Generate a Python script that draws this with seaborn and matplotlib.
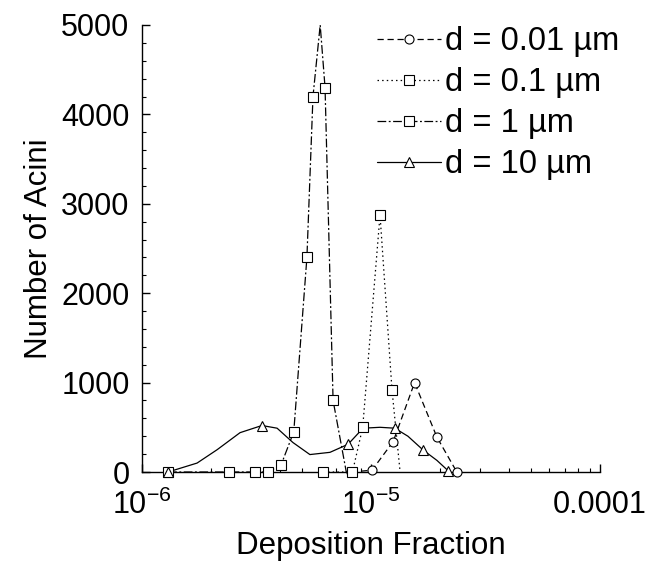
import numpy as np
import pandas as pd
import matplotlib
matplotlib.use("Agg")
import matplotlib.pyplot as plt
from matplotlib.lines import Line2D
from matplotlib.ticker import FixedLocator, MultipleLocator, NullFormatter, FixedFormatter
import seaborn as sns

# ---------------- data ----------------
series_labels = ["d = 0.01 µm", "d = 0.1 µm", "d = 1 µm", "d = 10 µm"]

frac_001 = [8.2e-6, 1.01e-5, 1.25e-5, 1.55e-5, 1.94e-5, 2.37e-5]
count_001 = [0, 20, 340, 1000, 390, 0]
mark_001 = [1, 1, 1, 1, 1, 1]

frac_01 = [6.2e-6, 8.3e-6, 9.2e-6, 1.095e-5, 1.235e-5, 1.34e-5]
count_01 = [0, 0, 500, 2875, 920, 0]
mark_01 = [1, 1, 1, 1, 1, 0]

frac_1 = [1.3e-6, 2.4e-6, 3.1e-6, 3.55e-6, 4.05e-6, 4.6e-6, 5.25e-6, 5.58e-6,
          6.0e-6, 6.3e-6, 6.83e-6, 7.8e-6]
count_1 = [0, 0, 0, 0, 80, 450, 2400, 4200, 5000, 4300, 800, 0]
mark_1 = [1, 1, 1, 1, 1, 1, 1, 1, 0, 1, 1, 0]

frac_10 = [1.3e-6, 1.74e-6, 2.13e-6, 2.68e-6, 3.34e-6, 3.89e-6, 4.56e-6, 5.41e-6,
           6.62e-6, 7.94e-6, 9.23e-6, 1.095e-5, 1.27e-5, 1.45e-5, 1.69e-5, 1.94e-5, 2.17e-5]
count_10 = [0, 100, 250, 440, 520, 490, 330, 195, 220, 310, 490, 500, 490, 400, 245, 130, 15]
mark_10 = [1, 0, 0, 0, 1, 0, 0, 0, 0, 1, 0, 0, 1, 0, 1, 0, 1]

x_ticks = [1e-6, 1e-5, 1e-4]
x_tick_labels = ["10$^{-6}$", "10$^{-5}$", "0.0001"]
y_ticks = [0, 1000, 2000, 3000, 4000, 5000]
x_label = "Deposition Fraction"
y_label = "Number of Acini"

# ---------------- assemble ----------------
frames = []
for lab, fx, cy, mk in zip(series_labels,
                           [frac_001, frac_01, frac_1, frac_10],
                           [count_001, count_01, count_1, count_10],
                           [mark_001, mark_01, mark_1, mark_10]):
    frames.append(pd.DataFrame({"frac": fx, "count": cy, "marked": mk, "series": lab}))
df = pd.concat(frames, ignore_index=True)

styles = {
    "d = 0.01 µm": dict(ls=(0, (5, 3)), marker="o"),
    "d = 0.1 µm": dict(ls=(0, (1.2, 2.5)), marker="s"),
    "d = 1 µm": dict(ls=(0, (7, 2, 1.5, 2)), marker="s"),
    "d = 10 µm": dict(ls="-", marker="^"),
}

sns.set_theme(style="ticks")
plt.rcParams["font.family"] = ["Liberation Sans", "DejaVu Sans"]
plt.rcParams["mathtext.fontset"] = "custom"
plt.rcParams["mathtext.rm"] = "Liberation Sans"
plt.rcParams["mathtext.it"] = "Liberation Sans:italic"
plt.rcParams["mathtext.bf"] = "Liberation Sans:bold"
plt.rcParams["text.color"] = "black"
plt.rcParams["axes.labelcolor"] = "black"
plt.rcParams["xtick.color"] = "black"
plt.rcParams["ytick.color"] = "black"

fig = plt.figure(figsize=(6.6, 5.65), dpi=100)
ax = fig.add_axes([142 / 660, 1 - 472 / 565, (600 - 142) / 660, (472 - 25) / 565])

lw = 0.9
ms = 6.5
for lab in series_labels:
    sub = df[df["series"] == lab]
    st = styles[lab]
    sns.lineplot(data=sub, x="frac", y="count", estimator=None, sort=False,
                 color="black", linewidth=lw, linestyle=st["ls"], ax=ax,
                 legend=False, clip_on=False, zorder=2)
for lab in series_labels:
    sub = df[(df["series"] == lab) & (df["marked"] == 1)]
    st = styles[lab]
    sns.lineplot(data=sub, x="frac", y="count", estimator=None, sort=False,
                 color="black", linestyle="", marker=st["marker"], markersize=ms,
                 markerfacecolor="white", markeredgecolor="black", markeredgewidth=0.8,
                 ax=ax, legend=False, clip_on=False, zorder=3)

ax.set_xscale("log")
ax.set_xlim(1e-6, 1e-4)
ax.set_ylim(0, 5000)

ax.xaxis.set_major_locator(FixedLocator(x_ticks))
ax.xaxis.set_major_formatter(FixedFormatter(x_tick_labels))
minor = [m * d for d in [1e-6, 1e-5] for m in range(2, 10)]
ax.xaxis.set_minor_locator(FixedLocator(minor))
ax.xaxis.set_minor_formatter(NullFormatter())
ax.yaxis.set_major_locator(FixedLocator(y_ticks))
ax.yaxis.set_minor_locator(MultipleLocator(200))

for s in ["top", "right"]:
    ax.spines[s].set_visible(False)
for s in ["left", "bottom"]:
    ax.spines[s].set_linewidth(1.0)
    ax.spines[s].set_color("black")

ax.tick_params(which="major", direction="in", length=6, width=1.0, colors="black",
               labelsize=22, pad=9)
ax.tick_params(which="minor", direction="in", length=3, width=0.8, colors="black")
ax.tick_params(axis="x", which="major", pad=13)

ax.set_xlabel(x_label, fontsize=22.5, labelpad=7, color="black")
ax.set_ylabel(y_label, fontsize=22.5, labelpad=5, color="black")
ax.set_facecolor("white")
ax.grid(False)

handles = [Line2D([], [], color="black", lw=lw, linestyle=styles[l]["ls"],
                  marker=styles[l]["marker"], markersize=ms, markerfacecolor="white",
                  markeredgecolor="black", markeredgewidth=0.8) for l in series_labels]
leg = ax.legend(handles, series_labels, loc="upper left",
                bbox_to_anchor=(377 / 660, 1 - 26 / 565), bbox_transform=fig.transFigure,
                frameon=False, fontsize=23.5, handlelength=1.96, handletextpad=0.12,
                labelspacing=0.31, borderpad=0, borderaxespad=0)
for t in leg.get_texts():
    t.set_color("black")

fig.savefig("out.png", dpi=100, facecolor="white")
